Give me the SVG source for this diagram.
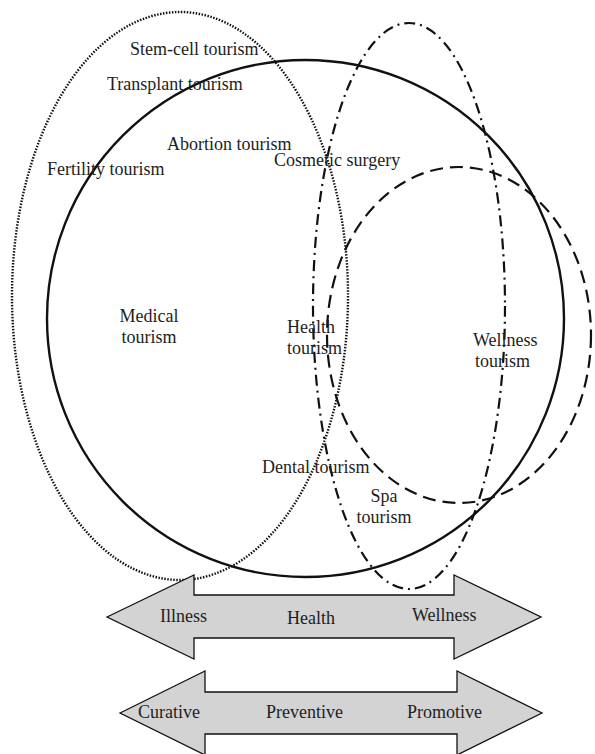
<svg xmlns="http://www.w3.org/2000/svg" width="595" height="754" viewBox="0 0 595 754">
<style>
text{font-family:"Liberation Serif","Times New Roman",serif;font-size:18px;fill:#1e1e1e}
.c{fill:none;stroke:#111}
.solid{stroke-width:2.4}
.dot{stroke-width:2.4;stroke-dasharray:1.5 1.5}
.dashdot{stroke-width:2.2;stroke-dasharray:11 5 2 5}
.dash{stroke-width:2.2;stroke-dasharray:13 7}
.arrow{fill:#d3d3d3;stroke:#111;stroke-width:1.3}
</style>
<rect width="595" height="754" fill="#fff"/>
<g id="connectors">
<g id="medical-ellipse"><ellipse class="c dot" cx="180" cy="296" rx="168" ry="284"/></g>
<g id="health-circle"><ellipse class="c solid" cx="305.5" cy="318.5" rx="258.5" ry="258.5"/></g>
<g id="spa-ellipse"><ellipse class="c dashdot" cx="409" cy="306" rx="96" ry="283"/></g>
<g id="wellness-ellipse"><ellipse class="c dash" cx="459" cy="335" rx="132" ry="168"/></g>
</g>
<g id="labels">
<text x="130" y="55">Stem-cell tourism</text>
<text x="107" y="90">Transplant tourism</text>
<text x="167" y="150">Abortion tourism</text>
<text x="47" y="175">Fertility tourism</text>
<text x="274" y="166">Cosmetic surgery</text>
<text x="149" y="322" text-anchor="middle">Medical</text>
<text x="149" y="343" text-anchor="middle">tourism</text>
<text x="287" y="333">Health</text>
<text x="287" y="354">tourism</text>
<text x="473" y="346">Wellness</text>
<text x="475" y="367">tourism</text>
<text x="262" y="473">Dental tourism</text>
<text x="384" y="502" text-anchor="middle">Spa</text>
<text x="384" y="523" text-anchor="middle">tourism</text>
</g>
<g id="arrow-health">
<polygon class="arrow" points="107,617 194,575 194,595 454,595 454,575 541,617 454,659 454,638 194,638 194,659"/>
<text x="160" y="622">Illness</text>
<text x="287" y="624">Health</text>
<text x="412" y="621">Wellness</text>
</g>
<g id="arrow-care">
<polygon class="arrow" points="120,713 205,671 205,692 457,692 457,671 542,713 457,755 457,734 205,734 205,755"/>
<text x="138" y="718">Curative</text>
<text x="266" y="718">Preventive</text>
<text x="407" y="718">Promotive</text>
</g>
</svg>
